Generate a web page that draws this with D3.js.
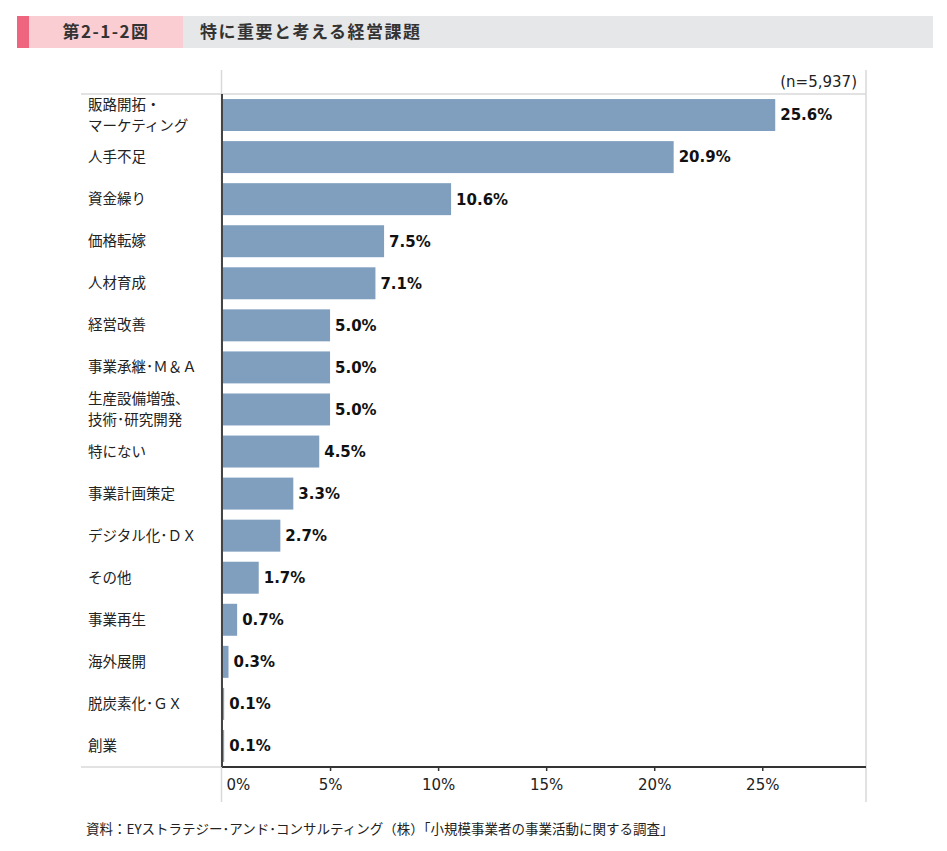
<!DOCTYPE html>
<html><head><meta charset="utf-8">
<script src="https://cdn.jsdelivr.net/npm/d3@7"></script>
<style>body{margin:0;background:#fff}svg{display:block}</style>
</head><body>
<script>
const categories = [
  ["販路開拓・","マーケティング"],
  ["人手不足"],
  ["資金繰り"],
  ["価格転嫁"],
  ["人材育成"],
  ["経営改善"],
  ["事業承継･Ｍ＆Ａ"],
  ["生産設備増強、","技術･研究開発"],
  ["特にない"],
  ["事業計画策定"],
  ["デジタル化･ＤＸ"],
  ["その他"],
  ["事業再生"],
  ["海外展開"],
  ["脱炭素化･ＧＸ"],
  ["創業"]
];
const values = [25.6, 20.9, 10.6, 7.5, 7.1, 5.0, 5.0, 5.0, 4.5, 3.3, 2.7, 1.7, 0.7, 0.3, 0.1, 0.1];
const tickValues = [0, 5, 10, 15, 20, 25];
const figNo = "第2-1-2図";
const title = "特に重要と考える経営課題";
const nLabel = "(n=5,937)";
const source = "資料：EYストラテジー･アンド･コンサルティング（株）「小規模事業者の事業活動に関する調査」";

(function(){
const W = 947, H = 851;
const jp = "'Noto Sans CJK JP','Noto Sans',sans-serif";
const num = "'DejaVu Sans',Verdana,sans-serif";
const svg = d3.select("body").append("svg").attr("width", W).attr("height", H);

// header
svg.append("rect").attr("x",17).attr("y",16).attr("width",12).attr("height",32).attr("fill","#ef6580");
svg.append("rect").attr("x",29).attr("y",16).attr("width",154).attr("height",32).attr("fill","#f9cdd1");
svg.append("rect").attr("x",183).attr("y",16).attr("width",750).attr("height",32).attr("fill","#e6e7e9");
svg.append("text").attr("x",106).attr("y",32).attr("dy","0.35em").attr("text-anchor","middle")
  .attr("font-family",jp).attr("font-size",17).attr("font-weight",700).attr("fill","#333").attr("letter-spacing",1.5).text(figNo);
svg.append("text").attr("x",200).attr("y",32).attr("dy","0.35em")
  .attr("font-family",jp).attr("font-size",17).attr("font-weight",700).attr("fill","#333").attr("letter-spacing",1.5).text(title);

// scales
const pl = 222, pr = 866, pt = 94, pb = 767;
const x = d3.scaleLinear().domain([0, 29.8]).range([pl, pr]);
const y = d3.scaleBand().domain(d3.range(categories.length)).range([pt, pb]).paddingInner(0.24).paddingOuter(0.12);

const grid = "#d9d9d9";
svg.append("line").attr("x1",81).attr("x2",pr).attr("y1",pt).attr("y2",pt).attr("stroke",grid).attr("stroke-width",1.5);
svg.append("line").attr("x1",81).attr("x2",pl).attr("y1",pb).attr("y2",pb).attr("stroke",grid).attr("stroke-width",1.5);
svg.append("line").attr("x1",pl-0.5).attr("x2",pl-0.5).attr("y1",70).attr("y2",802).attr("stroke",grid).attr("stroke-width",1.5);
svg.append("line").attr("x1",pr).attr("x2",pr).attr("y1",70).attr("y2",802).attr("stroke",grid).attr("stroke-width",1.5);

// bars
svg.append("g").selectAll("rect").data(values).join("rect")
  .attr("x", x(0)).attr("y",(d,i)=>y(i)).attr("width",d=>x(d)-x(0)).attr("height",y.bandwidth())
  .attr("fill","#809fbf");

// value labels
svg.append("g").selectAll("text").data(values).join("text")
  .attr("x",d=>x(d)+5).attr("y",(d,i)=>y(i)+y.bandwidth()/2).attr("dy","0.36em")
  .attr("font-family",num).attr("font-size",15).attr("font-weight",700).attr("fill","#111")
  .text(d=>d.toFixed(1)+"%");

// category labels
const fs = 14.5, lh = 1.45;
const cl = svg.append("g").selectAll("text").data(categories).join("text")
  .attr("x",88).attr("y",(d,i)=>y(i)+y.bandwidth()/2)
  .attr("font-family",jp).attr("font-size",fs).attr("fill","#222");
cl.each(function(d){
  const t = d3.select(this);
  const n = d.length;
  d.forEach((s,k)=>{
    t.append("tspan").attr("x",88).attr("dy", k===0 ? ((0.35 - (n-1)*lh/2)+"em") : lh+"em").text(s);
  });
});

// x axis
const ax = svg.append("g").attr("transform",`translate(0,${pb})`)
  .call(d3.axisBottom(x).tickValues(tickValues).tickSize(4).tickPadding(8).tickFormat(d=>d+"%"));
ax.select(".domain").remove();
ax.selectAll(".tick line").attr("stroke","#333").attr("stroke-width",1.5);
ax.selectAll(".tick text").attr("font-family",num).attr("font-size",15).attr("fill","#222");
ax.selectAll(".tick").filter(d=>d===0).select("line").remove();
ax.selectAll(".tick").filter(d=>d===0).select("text").attr("text-anchor","start").attr("x",4);
svg.append("line").attr("x1",pl).attr("x2",pr).attr("y1",pb).attr("y2",pb).attr("stroke","#333").attr("stroke-width",2);
svg.append("line").attr("x1",pl).attr("x2",pl).attr("y1",pt).attr("y2",pb).attr("stroke","#444").attr("stroke-width",2);

// n label
svg.append("text").attr("x",857).attr("y",82).attr("dy","0.35em").attr("text-anchor","end")
  .attr("font-family",num).attr("font-size",15).attr("fill","#222").text(nLabel);

// source
svg.append("text").attr("x",86).attr("y",829).attr("dy","0.35em")
  .attr("font-family",jp).attr("font-size",13.5).attr("fill","#222").text(source);
})();
</script>
</body></html>
